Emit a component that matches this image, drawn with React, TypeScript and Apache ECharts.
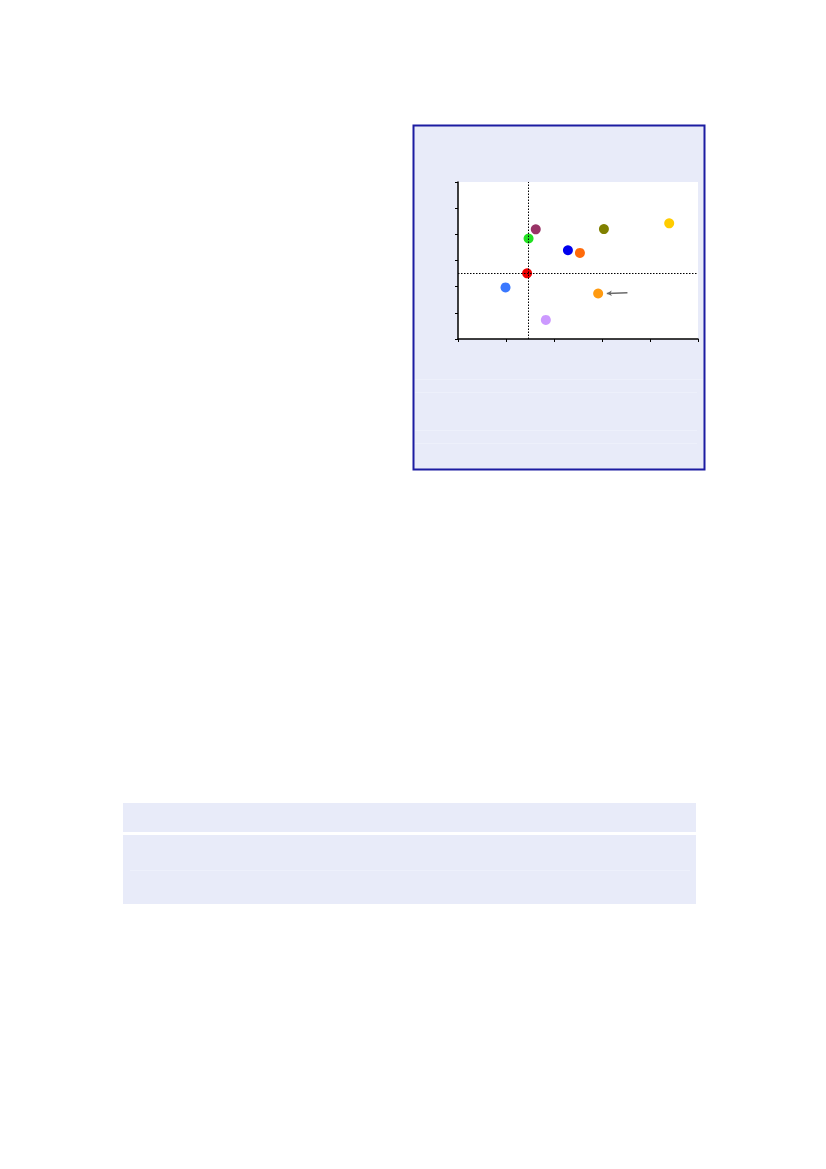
import { useEffect, useRef } from 'react';
import * as echarts from 'echarts';

// point values (axes carry no labels in the reference)
const pointNames = ['A', 'B', 'C', 'D', 'E', 'F', 'G', 'H', 'I', 'J'];
const xValues = [1.62, 1.47, 2.29, 2.54, 3.04, 4.4, 1.44, 0.99, 2.92, 1.83];
const yValues = [4.19, 3.84, 3.39, 3.29, 4.2, 4.42, 2.51, 1.97, 1.74, 0.73];
const pointColors = ['#993366', '#22e022', '#0000ee', '#ff6a0a', '#808000', '#ffcc00', '#ee0000', '#3a78ff', '#ff9a10', '#cc99ff'];

// reference lines and callout arrow
const refX = 1.46;
const refY = 2.51;
const arrowFrom = [3.53, 1.77];
const arrowTo = [3.1, 1.74];

const xTicks = { min: 0, max: 5, interval: 1 };
const yTicks = { min: 0, max: 6, interval: 1 };

export default function App() {
  const chartRef = useRef<HTMLDivElement>(null);

  useEffect(() => {
    if (!chartRef.current) return;
    const chart = echarts.init(chartRef.current, null, { renderer: 'svg' });

    const boxBg = '#e8ebf9';
    const faint = '#edf0fb';

    const option = {
      animation: false,
      graphic: [
        {
          type: 'rect',
          z: -10,
          shape: { x: 413.5, y: 125.5, width: 291, height: 344 },
          style: { fill: boxBg, stroke: '#1c1ca2', lineWidth: 2 },
        },
        {
          type: 'rect',
          z: -9,
          shape: { x: 458, y: 182, width: 240, height: 157 },
          style: { fill: '#ffffff' },
        },
        { type: 'line', z: -9, shape: { x1: 415, y1: 379.5, x2: 703, y2: 379.5 }, style: { stroke: faint, lineWidth: 1 } },
        { type: 'line', z: -9, shape: { x1: 415, y1: 392.5, x2: 697, y2: 392.5 }, style: { stroke: faint, lineWidth: 1 } },
        { type: 'line', z: -9, shape: { x1: 415, y1: 430.5, x2: 697, y2: 430.5 }, style: { stroke: faint, lineWidth: 1 } },
        { type: 'line', z: -9, shape: { x1: 415, y1: 443.5, x2: 697, y2: 443.5 }, style: { stroke: faint, lineWidth: 1 } },
        {
          type: 'rect',
          z: -10,
          shape: { x: 123, y: 803, width: 573, height: 29 },
          style: { fill: boxBg },
        },
        {
          type: 'rect',
          z: -10,
          shape: { x: 123, y: 835, width: 573, height: 69 },
          style: { fill: boxBg },
        },
        { type: 'line', z: -9, shape: { x1: 130, y1: 870.5, x2: 690, y2: 870.5 }, style: { stroke: faint, lineWidth: 1 } },
      ],
      grid: {
        left: 458,
        top: 182,
        width: 240,
        height: 157,
        containLabel: false,
      },
      xAxis: {
        type: 'value',
        ...xTicks,
        axisLine: { show: true, onZero: false, lineStyle: { color: '#000', width: 1.5 } },
        axisTick: { show: true, length: 3, lineStyle: { color: '#000', width: 1 } },
        axisLabel: { show: false },
        splitLine: { show: false },
      },
      yAxis: {
        type: 'value',
        ...yTicks,
        axisLine: { show: true, onZero: false, lineStyle: { color: '#000', width: 1.5 } },
        axisTick: { show: true, length: 3, lineStyle: { color: '#000', width: 1 } },
        axisLabel: { show: false },
        splitLine: { show: false },
      },
      series: [
        {
          type: 'scatter',
          symbolSize: 10,
          data: pointNames.map((name, i) => ({
            name,
            value: [xValues[i], yValues[i]],
            itemStyle: { color: pointColors[i], opacity: 1 },
          })),
          markLine: {
            silent: true,
            symbol: ['none', 'none'],
            label: { show: false },
            lineStyle: { color: '#000', type: [1.5, 1.5], width: 1 },
            data: [
              { xAxis: refX },
              { yAxis: refY },
              [
                {
                  coord: arrowFrom,
                  symbol: 'none',
                  lineStyle: { color: '#6a6a6a', type: 'solid', width: 1.5 },
                },
                { coord: arrowTo, symbol: 'arrow', symbolSize: [4, 5] },
              ],
            ],
          },
        },
      ],
    };

    chart.setOption(option);
    return () => chart.dispose();
  }, []);

  return (
    <div
      ref={chartRef}
      style={{ position: 'absolute', left: 0, top: 0, width: '826px', height: '1169px' }}
    />
  );
}
